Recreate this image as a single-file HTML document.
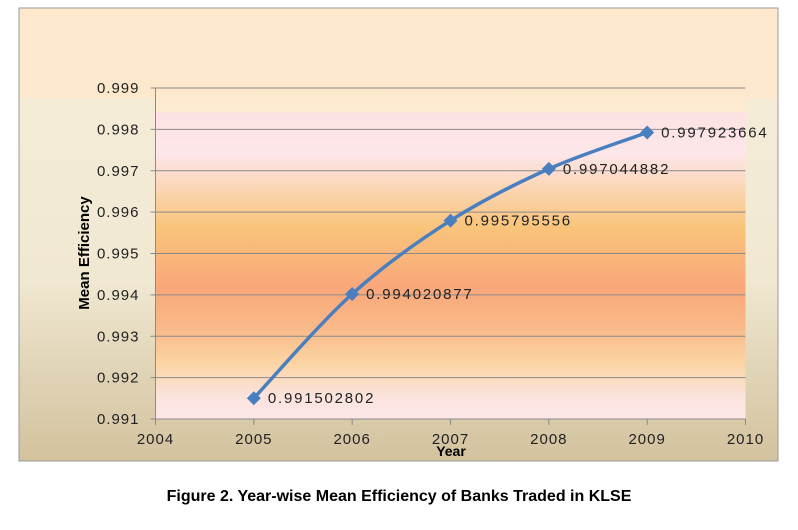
<!DOCTYPE html>
<html><head><meta charset="utf-8"><style>
body{margin:0;background:#fff;width:798px;height:525px;overflow:hidden;font-family:"Liberation Sans",sans-serif}
</style></head><body>
<svg width="798" height="525" viewBox="0 0 798 525">
<defs>
<linearGradient id="outer" x1="0" y1="0" x2="0" y2="1">
<stop offset="0" stop-color="#fde8ce"/><stop offset="0.2" stop-color="#fde8ce"/>
<stop offset="0.2" stop-color="#f4ecd7"/><stop offset="0.6" stop-color="#f1e8d2"/>
<stop offset="0.75" stop-color="#e4d9bd"/><stop offset="1" stop-color="#d3c29e"/>
</linearGradient>
<linearGradient id="plot" x1="0" y1="0" x2="0" y2="1">
<stop offset="0" stop-color="#fde8ce"/><stop offset="0.07" stop-color="#fdeccf"/>
<stop offset="0.075" stop-color="#fde2e2"/><stop offset="0.2" stop-color="#fde6ea"/>
<stop offset="0.3" stop-color="#fbd6b6"/><stop offset="0.42" stop-color="#f9c47a"/>
<stop offset="0.6" stop-color="#f9a77a"/><stop offset="0.72" stop-color="#f9b888"/>
<stop offset="0.83" stop-color="#fbd4a2"/><stop offset="0.93" stop-color="#fbe3dd"/>
<stop offset="1" stop-color="#fde6e8"/>
</linearGradient>
</defs>
<rect x="19" y="8" width="759" height="453" fill="url(#outer)" stroke="#9a9a9a"/>
<rect x="155.5" y="88" width="590" height="331" fill="url(#plot)"/>
<g id="grid"></g><g id="axes"></g><g id="series"></g>
<text x="89" y="253" transform="rotate(-90 89 253)" text-anchor="middle" font-size="15" font-weight="bold" fill="#000">Mean Efficiency</text>
<text x="451" y="456" text-anchor="middle" font-size="14" font-weight="bold" fill="#000">Year</text>
<text x="399" y="501" text-anchor="middle" font-size="16" font-weight="bold" fill="#000">Figure 2. Year-wise Mean Efficiency of Banks Traded in KLSE</text>
</svg>
<script>
const years=[2005,2006,2007,2008,2009];
const values=[0.991502802,0.994020877,0.995795556,0.997044882,0.997923664];
const labels=["0.991502802","0.994020877","0.995795556","0.997044882","0.997923664"];
const yTicks=[0.991,0.992,0.993,0.994,0.995,0.996,0.997,0.998,0.999];
const xTicks=[2004,2005,2006,2007,2008,2009,2010];
const NS="http://www.w3.org/2000/svg";
const X0=155.5,X1=745.5,Y0=419,Y1=88;
const xs=v=>X0+(v-2004)/(2010-2004)*(X1-X0);
const ys=v=>Y0-(v-0.991)/(0.999-0.991)*(Y0-Y1);
function mk(t,a,p){const e=document.createElementNS(NS,t);for(const k in a)e.setAttribute(k,a[k]);p.appendChild(e);return e;}
const grid=document.getElementById('grid'),axes=document.getElementById('axes'),ser=document.getElementById('series');
yTicks.forEach(t=>{const y=ys(t);
 if(t>0.991){const l=mk('line',{x1:X0,x2:X1,y1:y,y2:y,stroke:'#8a8a8a','stroke-width':1},grid);
 
 }
 mk('line',{x1:X0-5,x2:X0,y1:y,y2:y,stroke:'#8a8a8a'},axes);
 const tx=mk('text',{x:X0-16,y:y+5,'text-anchor':'end','font-size':'15','letter-spacing':'1',fill:'#222'},axes);tx.textContent=t.toFixed(3);
 
 
});
mk('line',{x1:X0,x2:X0,y1:Y1,y2:Y0,stroke:'#8a8a8a'},axes);
mk('line',{x1:X0,x2:X1,y1:Y0,y2:Y0,stroke:'#8a8a8a'},axes);
xTicks.forEach(t=>{const x=xs(t);
 mk('line',{x1:x,x2:x,y1:Y0,y2:Y0+6,stroke:'#8a8a8a'},axes);
 const tx=mk('text',{x:x,y:Y0+25,'text-anchor':'middle','font-size':'15','letter-spacing':'1',fill:'#222'},axes);tx.textContent=t;
 
 
});
const pts=years.map((y,i)=>[xs(y),ys(values[i])]);
let d='M'+pts[0][0]+','+pts[0][1];
for(let i=0;i<pts.length-1;i++){const p0=pts[i-1]||pts[i],p1=pts[i],p2=pts[i+1],p3=pts[i+2]||p2;
 const c1=[p1[0]+(p2[0]-p0[0])/6,p1[1]+(p2[1]-p0[1])/6],c2=[p2[0]-(p3[0]-p1[0])/6,p2[1]-(p3[1]-p1[1])/6];
 d+=' C'+c1+' '+c2+' '+p2;}
const line=mk('path',{d:d,fill:'none',stroke:'#4a7fbf','stroke-width':3.5},ser);


pts.forEach((p,i)=>{
 const m=mk('polygon',{points:`${p[0]},${p[1]-7} ${p[0]+7},${p[1]} ${p[0]},${p[1]+7} ${p[0]-7},${p[1]}`,fill:'#4a7fbf'},ser);
 
 
 const t=mk('text',{x:p[0]+14,y:p[1]+5,'font-size':'15','letter-spacing':'1.8',fill:'#222'},ser);t.textContent=labels[i];
 
 
});
</script>
</body></html>
